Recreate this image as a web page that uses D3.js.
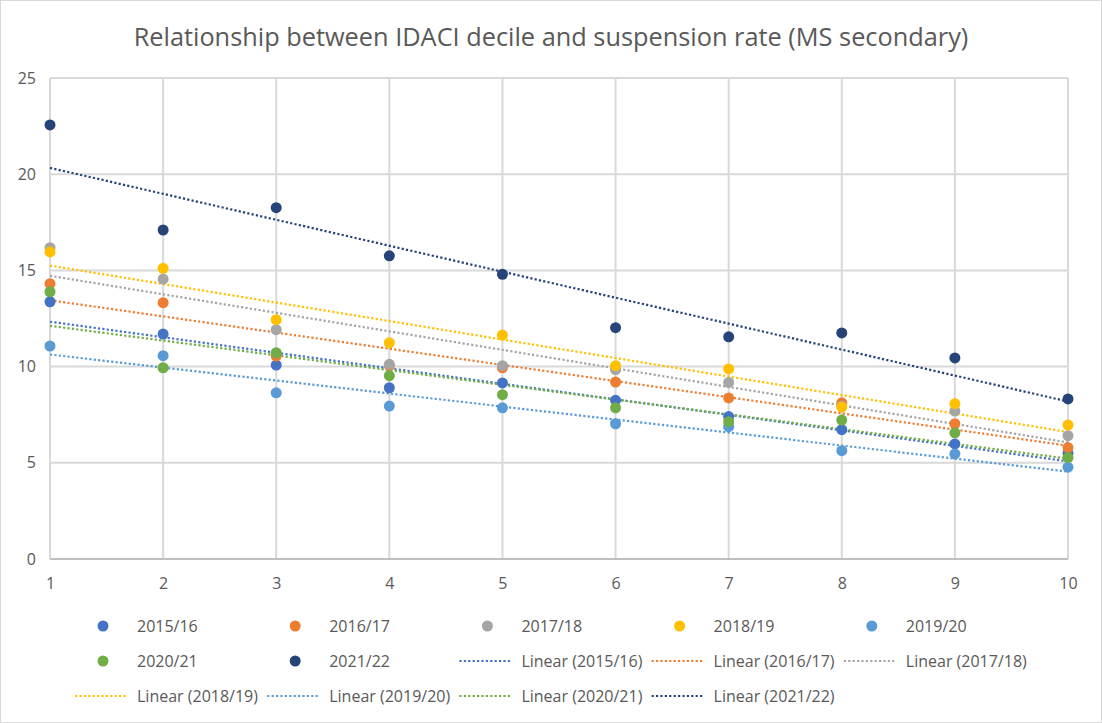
<!DOCTYPE html>
<html>
<head>
<meta charset="utf-8">
<script src="https://cdn.jsdelivr.net/npm/d3@7"></script>
<style>
	body { margin: 0; background: #fff; }
	text { font-family: "Open Sans", sans-serif; fill: #595959; }
</style>
</head>
<body>
<div id="chart"></div>
<script>
var deciles = [1, 2, 3, 4, 5, 6, 7, 8, 9, 10];
var seriesNames = ["2015/16", "2016/17", "2017/18", "2018/19", "2019/20", "2020/21", "2021/22"];
var seriesColors = ["#4472C4", "#ED7D31", "#A5A5A5", "#FFC000", "#5B9BD5", "#70AD47", "#264478"];

var rate1516 = [13.37, 11.69, 10.08, 8.90, 9.15, 8.25, 7.40, 6.72, 5.98, 5.49];
var rate1617 = [14.31, 13.32, 10.55, 10.05, 9.94, 9.20, 8.37, 8.12, 7.03, 5.79];
var rate1718 = [16.18, 14.55, 11.92, 10.12, 10.05, 9.84, 9.18, 7.95, 7.69, 6.41];
var rate1819 = [15.96, 15.11, 12.44, 11.24, 11.64, 10.05, 9.88, 7.90, 8.07, 6.96];
var rate1920 = [11.07, 10.57, 8.64, 7.95, 7.86, 7.03, 6.88, 5.63, 5.46, 4.77];
var rate2021 = [13.89, 9.94, 10.72, 9.53, 8.54, 7.86, 7.14, 7.22, 6.56, 5.27];
var rate2122 = [22.56, 17.10, 18.26, 15.76, 14.80, 12.02, 11.55, 11.75, 10.45, 8.32];

var yTicks = [0, 5, 10, 15, 20, 25];

var allRates = [rate1516, rate1617, rate1718, rate1819, rate1920, rate2021, rate2122];

var width = 1102, height = 723;

var svg = d3.select("#chart").append("svg")
	.attr("width", width)
	.attr("height", height);

svg.append("rect")
	.attr("x", 0.5).attr("y", 0.5)
	.attr("width", width - 1).attr("height", height - 1)
	.attr("fill", "#fff")
	.attr("stroke", "#d9d9d9");

var xscale = d3.scaleLinear().domain([1, 10]).range([50, 1068]);
var yscale = d3.scaleLinear().domain([0, 25]).range([559, 78]);

// title, fitted to the width it has in the picture
var title = svg.append("text")
	.attr("x", 551)
	.attr("y", 46)
	.attr("text-anchor", "middle")
	.attr("font-size", "22px")
	.text("Relationship between IDACI decile and suspension rate (MS secondary)");
var tlen = title.node().getComputedTextLength();
title.attr("font-size", (22 * 835 / tlen) + "px");

// grid
svg.append("g")
	.selectAll("line")
	.data(yTicks.slice(1))
	.enter()
	.append("line")
	.attr("x1", 50).attr("x2", 1068)
	.attr("y1", function (d) { return yscale(d); })
	.attr("y2", function (d) { return yscale(d); })
	.attr("stroke", "#d9d9d9")
	.attr("stroke-width", 2);

svg.append("g")
	.selectAll("line")
	.data(deciles)
	.enter()
	.append("line")
	.attr("x1", function (d) { return xscale(d); })
	.attr("x2", function (d) { return xscale(d); })
	.attr("y1", 78).attr("y2", 559)
	.attr("stroke", "#d9d9d9")
	.attr("stroke-width", 2);

svg.append("line")
	.attr("x1", 50).attr("x2", 1068)
	.attr("y1", 559).attr("y2", 559)
	.attr("stroke", "#bfbfbf")
	.attr("stroke-width", 2);

// axes, drawn with d3 axes but no domain or tick marks
var yAxis = svg.append("g")
	.attr("transform", "translate(36,0)")
	.call(d3.axisLeft(yscale).tickValues(yTicks).tickSize(0).tickPadding(0));
var xAxis = svg.append("g")
	.attr("transform", "translate(0,578)")
	.call(d3.axisBottom(xscale).tickValues(deciles).tickSize(0).tickPadding(0));
[yAxis, xAxis].forEach(function (a) {
	a.select(".domain").remove();
	a.selectAll("text")
		.attr("font-size", "16px")
		.attr("font-family", "'Open Sans', sans-serif")
		.attr("fill", "#595959");
});

// trend lines (least squares)
function fitLine(vals) {
	var mx = d3.mean(deciles), my = d3.mean(vals);
	var sxy = d3.sum(deciles, function (x, i) { return (x - mx) * (vals[i] - my); });
	var sxx = d3.sum(deciles, function (x) { return (x - mx) * (x - mx); });
	var b = sxy / sxx;
	return function (x) { return my + b * (x - mx); };
}

var trendG = svg.append("g");
allRates.forEach(function (vals, s) {
	var f = fitLine(vals);
	trendG.append("line")
		.attr("x1", xscale(1)).attr("y1", yscale(f(1)))
		.attr("x2", xscale(10)).attr("y2", yscale(f(10)))
		.attr("stroke", seriesColors[s])
		.attr("stroke-width", 2.2)
		.attr("stroke-dasharray", "2.2,2.2");
});

// points
allRates.forEach(function (vals, s) {
	svg.append("g")
		.selectAll("circle")
		.data(vals)
		.enter()
		.append("circle")
		.attr("r", 5.5)
		.attr("cx", function (d, i) { return xscale(deciles[i]); })
		.attr("cy", function (d) { return yscale(d); })
		.attr("fill", seriesColors[s]);
});

// legend: 5 columns, markers first then trend lines
var legendItems = [];
seriesNames.forEach(function (n, s) { legendItems.push({ name: n, color: seriesColors[s], kind: "dot" }); });
seriesNames.forEach(function (n, s) { legendItems.push({ name: "Linear (" + n + ")", color: seriesColors[s], kind: "line" }); });

var legend = svg.append("g")
	.selectAll("g")
	.data(legendItems)
	.enter()
	.append("g")
	.attr("transform", function (d, i) {
		return "translate(" + (137 + (i % 5) * 192.2) + "," + (626 + Math.floor(i / 5) * 35) + ")";
	});

legend.filter(function (d) { return d.kind == "dot"; })
	.append("circle")
	.attr("cx", -34).attr("cy", 0).attr("r", 5.5)
	.attr("fill", function (d) { return d.color; });

legend.filter(function (d) { return d.kind == "line"; })
	.append("line")
	.attr("x1", -62).attr("x2", -11)
	.attr("y1", 0).attr("y2", 0)
	.attr("stroke", function (d) { return d.color; })
	.attr("stroke-width", 2.2)
	.attr("stroke-dasharray", "2.2,2.2");

legend.append("text")
	.attr("x", 0).attr("y", 0)
	.attr("dy", "0.35em")
	.attr("font-size", "16px")
	.text(function (d) { return d.name; });
</script>
</body>
</html>
